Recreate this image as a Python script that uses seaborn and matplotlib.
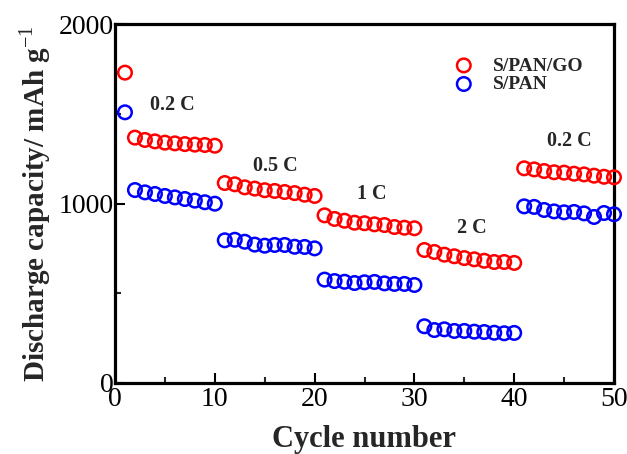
import numpy as np
import pandas as pd
import matplotlib
matplotlib.use("Agg")
import matplotlib.pyplot as plt
import seaborn as sns

cycles = list(range(1, 51))
spango = [1729, 1367, 1354, 1346, 1339, 1335, 1331, 1328, 1326, 1322,
          1114, 1107, 1090, 1083, 1074, 1070, 1064, 1058, 1049, 1042,
          934, 914, 904, 893, 890, 884, 880, 869, 865, 862,
          741, 730, 715, 706, 696, 689, 681, 674, 674, 669,
          1196, 1190, 1181, 1174, 1172, 1166, 1162, 1155, 1149, 1146]
span = [1508, 1075, 1062, 1053, 1042, 1034, 1025, 1016, 1007, 999,
        795, 798, 787, 771, 765, 769, 769, 759, 758, 750,
        576, 568, 564, 557, 561, 563, 555, 552, 552, 546,
        316, 295, 299, 290, 290, 286, 284, 280, 277, 279,
        984, 981, 964, 956, 951, 953, 945, 925, 947, 940]
series_names = ["S/PAN/GO", "S/PAN"]
rate_labels = ["0.2 C", "0.5 C", "1 C", "2 C", "0.2 C"]
rate_x = [5.7, 16.1, 25.75, 35.8, 45.5]
rate_y = [1549, 1211, 1053, 865, 1347]

sns.set_theme(style="white")
plt.rcParams['font.family'] = ['Liberation Serif', 'DejaVu Serif']
plt.rcParams['mathtext.fontset'] = 'custom'
plt.rcParams['mathtext.rm'] = 'Liberation Serif'
plt.rcParams['mathtext.bf'] = 'Liberation Serif:bold'

df = pd.DataFrame({
    "cycle": cycles * 2,
    "cap": spango + span,
    "sample": [series_names[0]] * len(cycles) + [series_names[1]] * len(cycles),
})

fig = plt.figure(figsize=(6.27, 4.54), dpi=100)
ax = fig.add_axes([115/627, 1 - 383/454, (614-115)/627, (383-24)/454])

colors = {"S/PAN/GO": "#ff0000", "S/PAN": "#0000ff"}
for name in series_names:
    sub = df[df["sample"] == name]
    sns.scatterplot(data=sub, x="cycle", y="cap", ax=ax, marker="o", s=95,
                    facecolors="none", edgecolor=colors[name], linewidth=1.8,
                    label=name, zorder=3, clip_on=False)

ax.set_xlim(0, 50)
ax.set_ylim(0, 2000)
ax.set_xticks([0, 10, 20, 30, 40, 50])
ax.set_xticks([5, 15, 25, 35, 45], minor=True)
ax.set_yticks([0, 1000, 2000])
ax.set_yticks([500, 1500], minor=True)

for sp in ax.spines.values():
    sp.set_linewidth(2.3)
    sp.set_color("black")
    sp.set_zorder(2)

ax.tick_params(axis="both", which="major", direction="in", length=7, width=1.5,
               labelsize=20, colors="black")
ax.tick_params(axis="both", which="minor", direction="in", length=4, width=1.5)
ax.tick_params(axis="y", which="both", left=True, right=False, pad=1)
ax.tick_params(axis="x", which="both", bottom=True, top=False, pad=3)

ax.set_xlabel("Cycle number", fontsize=22, fontweight="bold", labelpad=9)
ax.set_ylabel(r"Discharge capacity/ mAh g$^{-1}$", fontsize=21,
              fontweight="bold", labelpad=4)

for lbl, xx, yy in zip(rate_labels, rate_x, rate_y):
    ax.text(xx, yy, lbl, fontsize=14.5, fontweight="bold", ha="center", va="center")

leg = ax.legend(loc="upper left", bbox_to_anchor=(0.66, 0.93), frameon=False,
                prop={"weight": "bold", "size": 14}, handletextpad=0.9,
                labelspacing=0.05, borderaxespad=0, handlelength=1.2)

fig.savefig("out.png", dpi=100)
